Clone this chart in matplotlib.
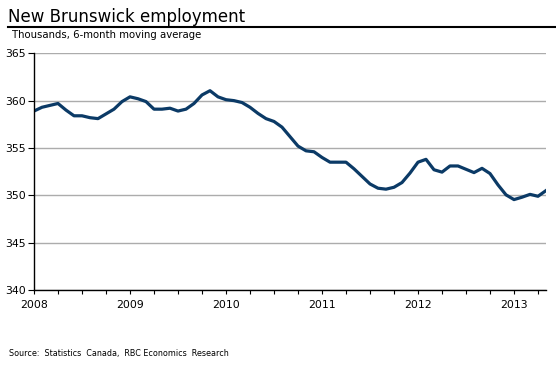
import numpy as np
import matplotlib
matplotlib.use("Agg")
import matplotlib.pyplot as plt
from matplotlib.lines import Line2D

# monthly, Jan 2008 - May 2013 (thousands, 6-month moving average)
employment = [
    358.9, 359.3, 359.5, 359.7, 359.0, 358.4, 358.4, 358.2, 358.1, 358.6, 359.1, 359.9,
    360.4, 360.2, 359.9, 359.1, 359.1, 359.2, 358.9, 359.1, 359.7, 360.6, 361.05, 360.4,
    360.1, 360.0, 359.8, 359.3, 358.65, 358.1, 357.8, 357.2, 356.2, 355.2, 354.7, 354.6,
    354.0, 353.5, 353.5, 353.5, 352.8, 352.0, 351.2, 350.75, 350.65, 350.85, 351.35, 352.35,
    353.5, 353.8, 352.7, 352.45, 353.1, 353.1, 352.75, 352.4, 352.85, 352.3, 351.1, 350.05,
    349.55, 349.8, 350.1, 349.9, 350.5,
]
year_labels = ['2008', '2009', '2010', '2011', '2012', '2013']
y_ticks = [340, 345, 350, 355, 360, 365]

matplotlib.rcParams['font.family'] = 'DejaVu Sans'

fig = plt.figure(figsize=(5.56, 3.66), dpi=100)
ax = fig.add_axes([34/556, 1 - 290/366, 512/556, (290 - 53.3)/366])

months = np.arange(len(employment))
ax.plot(months, employment, color='#0b3a66', linewidth=2.3, solid_joinstyle='round')

ax.set_xlim(0, len(employment) - 1)
ax.set_ylim(340, 365)
ax.set_yticks(y_ticks)
ax.set_yticklabels([str(v) for v in y_ticks], fontsize=7.8)
ax.set_xticks(np.arange(0, len(employment), 12))
ax.set_xticklabels(year_labels, fontsize=7.8)
ax.set_xticks(np.arange(0, len(employment), 3), minor=True)
ax.grid(axis='y', color='#acacac', linewidth=1.0)
ax.set_axisbelow(True)

for side in ['top', 'right']:
    ax.spines[side].set_visible(False)
ax.spines['left'].set_linewidth(1.0)
ax.spines['bottom'].set_linewidth(1.0)
ax.tick_params(axis='y', direction='out', length=4, width=0.8, pad=2)
ax.tick_params(axis='x', which='both', direction='out', length=3, width=0.8, pad=4)

fig.text(8/556, 1 - 22/366, 'New Brunswick employment', fontsize=12, ha='left', va='baseline')
fig.add_artist(Line2D([8/556, 1.0], [1 - 26.5/366, 1 - 26.5/366], color='black', linewidth=1.5))
fig.text(12/556, 1 - 38/366, 'Thousands, 6-month moving average', fontsize=7.3, ha='left', va='baseline')
fig.text(9/556, 1 - 356/366, 'Source:  Statistics  Canada,  RBC Economics  Research', fontsize=5.8, ha='left', va='baseline')

fig.savefig('out.png', dpi=100)
